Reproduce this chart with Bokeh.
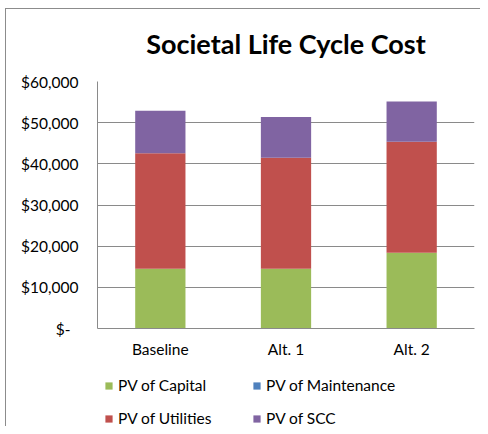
from bokeh.plotting import figure
from bokeh.models import Legend, LegendItem, CustomJSTickFormatter, FixedTicker
from bokeh.layouts import column
from bokeh.embed import file_html
from bokeh.resources import INLINE

categories = ["Baseline", "Alt. 1", "Alt. 2"]
pv_capital = [14500, 14500, 18400]
pv_maintenance = [0, 0, 0]
pv_utilities = [28100, 27000, 26950]
pv_scc = [10300, 9850, 9800]
series_names = ["PV of Capital", "PV of Maintenance", "PV of Utilities", "PV of SCC"]
colors = ["#9BBB59", "#4F81BD", "#C0504D", "#8064A2"]
y_ticks = [0, 10000, 20000, 30000, 40000, 50000, 60000]
stack_keys = ["capital", "maintenance", "utilities", "scc"]

FONT = "Lato"
GRAY = "#8c8c8c"

p = figure(x_range=categories, y_range=(0, 60000), width=480, height=366,
           output_backend="svg", toolbar_location=None,
           min_border_left=97, min_border_right=6, min_border_top=81, min_border_bottom=38)
p.title.text = "Societal Life Cycle Cost"
p.title.align = "center"
p.title.text_font = FONT
p.title.text_font_size = "27px"
p.title.text_font_style = "bold"
p.title.text_color = "#000000"
p.title.standoff = 43
p.outline_line_color = None
p.border_fill_color = None
p.background_fill_color = "#ffffff"
p.styles = {
    "background": f"linear-gradient({GRAY},{GRAY}) 5px 8px / 1px 100% no-repeat, "
                  f"linear-gradient({GRAY},{GRAY}) 5px 8px / 100% 1px no-repeat, #ffffff"
}

data = dict(x=categories, capital=pv_capital, maintenance=pv_maintenance,
            utilities=pv_utilities, scc=pv_scc)
renderers = p.vbar_stack(stack_keys, x="x", width=0.4,
                         color=colors, source=data, line_color=None)

p.xgrid.grid_line_color = None
p.ygrid.grid_line_color = "#8a8a8a"
p.ygrid.grid_line_width = 1

p.yaxis.ticker = FixedTicker(ticks=y_ticks)
p.yaxis.formatter = CustomJSTickFormatter(code="""
if (tick == 0) { return "$-\u00a0\u00a0"; }
return "$" + tick.toLocaleString("en-US");
""")
for ax in (p.xaxis, p.yaxis):
    ax.axis_line_color = "#8a8a8a"
    ax.major_tick_line_color = None
    ax.minor_tick_line_color = None
    ax.major_tick_out = 0
    ax.major_tick_in = 0
    ax.minor_tick_out = 0
    ax.major_label_text_font = FONT
    ax.major_label_text_font_size = "15.5px"
    ax.major_label_text_color = "#000000"
p.yaxis.major_label_standoff = 19
p.xaxis.major_label_standoff = 11

# legend panel (separate figure below the chart; its bars lie below its visible range)
q = figure(x_range=categories, y_range=(120000, 180000), width=480, height=60,
           output_backend="svg", toolbar_location=None,
           min_border=0)
q.axis.visible = False
q.grid.visible = False
q.outline_line_color = None
q.border_fill_color = None
q.background_fill_color = None
q.styles = {
    "background": f"linear-gradient({GRAY},{GRAY}) 5px 0px / 1px 100% no-repeat, #ffffff"
}
legend_renderers = q.vbar_stack(stack_keys, x="x", width=0.4,
                                color=colors, source=data, line_color=None)
order = [0, 2, 1, 3]  # row-wise: Capital, Maintenance / Utilities, SCC
items = [LegendItem(label=series_names[i], renderers=[legend_renderers[i]]) for i in order]
legend = Legend(items=items, ncols=2, location=(7, -1),
                glyph_width=9, glyph_height=9, label_standoff=5, label_width=119,
                label_text_font=FONT, label_text_font_size="15.5px",
                label_text_color="#000000", spacing=15, padding=0, margin=0,
                border_line_color=None, background_fill_alpha=0)
q.add_layout(legend, "center")

layout = column(p, q, spacing=0)
open("out.html", "w").write(file_html(layout, INLINE))
